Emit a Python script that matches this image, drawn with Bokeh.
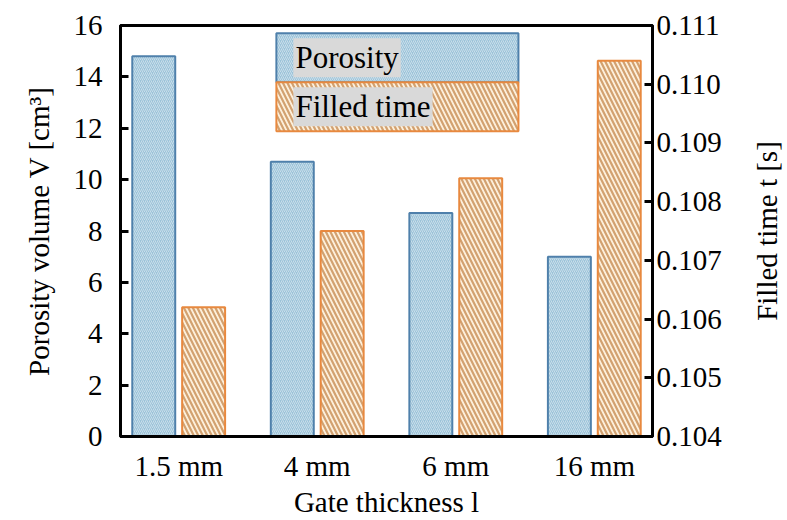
import math
from bokeh.plotting import figure
from bokeh.layouts import row
from bokeh.core.properties import value
from bokeh.models import (ColumnDataSource, Range1d, LinearAxis, FixedTicker,
                          BoxAnnotation, Label, PrintfTickFormatter)
from bokeh.transform import dodge
from bokeh.embed import file_html
from bokeh.resources import INLINE

# ---------------- data ----------------
categories = ["1.5 mm", "4 mm", "6 mm", "16 mm"]
porosity_volume = [14.8, 10.7, 8.7, 7.0]          # cm^3 (left axis)
filled_time = [0.1062, 0.1075, 0.1084, 0.1104]    # s (right axis)
left_ticks = [0, 2, 4, 6, 8, 10, 12, 14, 16]
right_ticks = [0.104, 0.105, 0.106, 0.107, 0.108, 0.109, 0.110, 0.111]
series_names = ["Porosity", "Filled time"]
right_title = "Filled time t [s]"

# ---------------- style ----------------
FONT = "Liberation Serif"
TICK_SIZE = "29px"
TITLE_SIZE = "29px"
POR_FILL, POR_LINE, POR_HATCH = "#9cc3d9", "#4f80ab", "#ffffff"
FT_FILL, FT_LINE, FT_HATCH = "#fdf0dc", "#e8893f", "#d2a170"

positions = list(range(1, len(categories) + 1))
src = ColumnDataSource(dict(pos=positions, por=porosity_volume, ft=filled_time))

x_lo, x_hi = 0.58, len(categories) + 0.42
p = figure(width=745, height=520,
           x_range=Range1d(x_lo, x_hi),
           y_range=Range1d(left_ticks[0], left_ticks[-1]),
           output_backend="svg", toolbar_location=None,
           min_border_left=120, min_border_right=93,
           min_border_top=25, min_border_bottom=82)
p.extra_y_ranges = {"t": Range1d(right_ticks[0], right_ticks[-1])}

p.background_fill_color = "white"
p.border_fill_color = "white"
p.outline_line_color = "black"
p.outline_line_width = 3
p.xgrid.visible = False
p.ygrid.visible = False

POR_STYLE = dict(fill_color=POR_FILL, line_color=POR_LINE, hatch_pattern="/",
                 hatch_color=POR_HATCH, hatch_scale=4, hatch_weight=1.0, hatch_alpha=0.45)
FT_STYLE = dict(fill_color=FT_FILL, line_color=FT_LINE, hatch_pattern="\\",
                hatch_color=FT_HATCH, hatch_scale=9, hatch_weight=2.2, hatch_alpha=1.0)

bar_w = 0.31
off = 0.18
p.vbar(x=dodge("pos", -off), top="por", bottom=left_ticks[0], width=bar_w, source=src,
       line_width=2, **POR_STYLE)
p.vbar(x=dodge("pos", off), top="ft", bottom=right_ticks[0], width=bar_w, source=src,
       y_range_name="t", line_width=2, **FT_STYLE)

# ---------------- axes ----------------
xa = p.xaxis[0]
xa.ticker = FixedTicker(ticks=positions)
xa.major_label_overrides = {pos: c for pos, c in zip(positions, categories)}
xa.axis_label = "Gate thickness l"
xa.minor_tick_line_color = None
xa.major_label_standoff = 7
xa.axis_label_standoff = 1

ya = p.yaxis[0]
ya.ticker = FixedTicker(ticks=left_ticks)
ya.axis_label = "Porosity volume V [cm\u00b3]"
ya.major_tick_in = 8
ya.major_tick_out = 0
ya.minor_tick_line_color = None
ya.major_label_standoff = 18
ya.axis_label_standoff = 16

ra = LinearAxis(y_range_name="t")
ra.ticker = FixedTicker(ticks=right_ticks)
ra.formatter = PrintfTickFormatter(format="%.3f")
ra.major_tick_in = 8
ra.major_tick_out = 0
ra.minor_tick_line_color = None
ra.major_label_standoff = 4
p.add_layout(ra, "right")

for ax in (xa, ya, ra):
    ax.axis_line_color = "black"
    ax.axis_line_width = 3
    ax.major_tick_line_color = "black" if ax is not xa else None
    ax.major_tick_line_width = 3
    ax.major_label_text_font = FONT
    ax.major_label_text_font_size = TICK_SIZE
    ax.major_label_text_color = "black"
    ax.axis_label_text_font = FONT
    ax.axis_label_text_font_size = TITLE_SIZE
    ax.axis_label_text_font_style = "normal"
    ax.axis_label_text_color = "black"

# ---------------- legend (drawn as annotations) ----------------
def fx(f):
    return x_lo + f * (x_hi - x_lo)

def fy(f):
    return left_ticks[0] + f * (left_ticks[-1] - left_ticks[0])

leg_l, leg_r = fx(0.293), fx(0.748)
row_edges = [fy(0.981), fy(0.862), fy(0.743)]
for i, (name, st) in enumerate(zip(series_names, (POR_STYLE, FT_STYLE))):
    box = BoxAnnotation(left=leg_l, right=leg_r, top=row_edges[i], bottom=row_edges[i + 1],
                        fill_alpha=1.0, line_alpha=1.0, line_width=2, **st)
    p.add_layout(box)
    lab = Label(x=fx(0.325), y=(row_edges[i] + row_edges[i + 1]) / 2, text=name,
                text_font=FONT, text_font_size="31px", text_color="black",
                text_baseline="middle", text_align="left",
                background_fill_color="#d9d9d9", background_fill_alpha=1.0)
    if "padding" in lab.properties():
        lab.padding = 2
    p.add_layout(lab)

# ---------------- right-axis title strip (reads bottom-to-top) ----------------
p2 = figure(width=42, height=520, x_range=Range1d(0, 1), y_range=Range1d(0, 1),
            output_backend="svg", toolbar_location=None,
            min_border_left=0, min_border_right=0,
            min_border_top=25, min_border_bottom=82)
p2.axis.visible = False
p2.xgrid.visible = False
p2.ygrid.visible = False
p2.outline_line_color = None
p2.background_fill_color = "white"
p2.border_fill_color = "white"
p2.text(x=[0.5], y=[0.5], text=[right_title], angle=math.pi / 2,
        text_font=value(FONT), text_font_size=value(TITLE_SIZE), text_color="black",
        text_align="center", text_baseline="middle")

layout = row(p, p2)
open("out.html", "w").write(file_html(layout, INLINE))
